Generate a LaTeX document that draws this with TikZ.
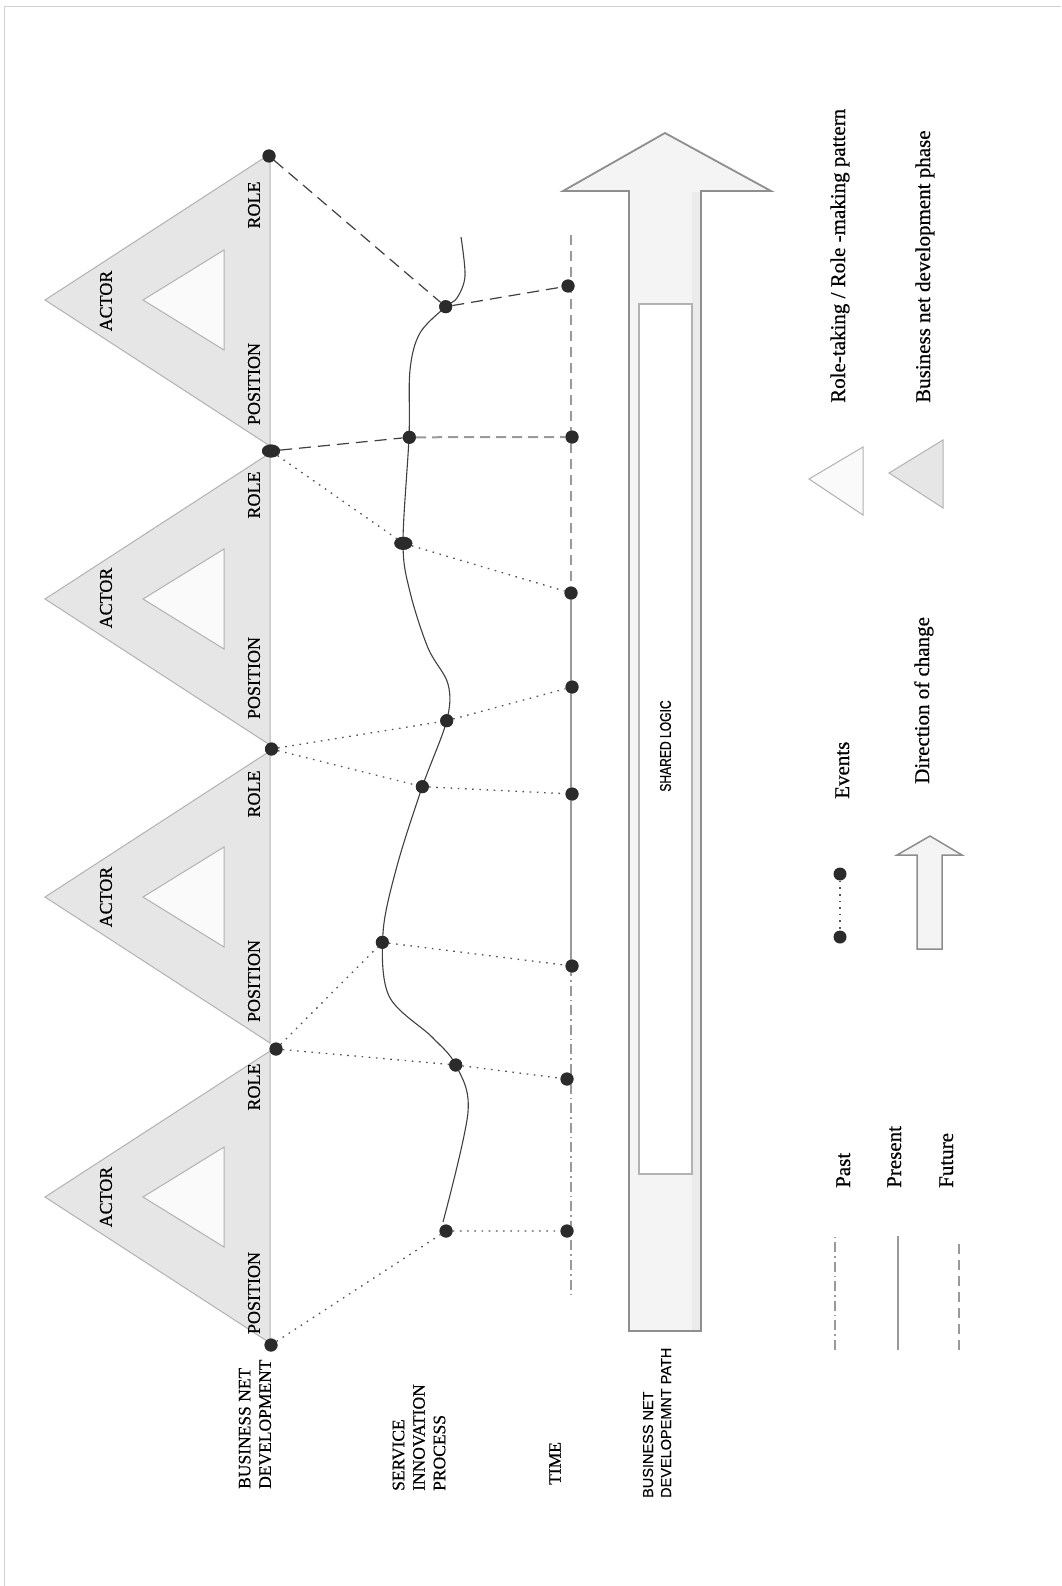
\documentclass[tikz,border=0pt]{standalone}
\usepackage{fontspec}
\setmainfont{Liberation Serif}[FakeBold=0.5]
\newfontfamily\sansfont{Liberation Sans}[FakeBold=0.4]
\newfontfamily\narrowfont{Liberation Sans}[FakeStretch=0.78, FakeBold=0.6]
\usetikzlibrary{shapes.geometric}

\definecolor{phasefill}{HTML}{E6E6E6}
\definecolor{patternfill}{HTML}{FAFAFA}
\definecolor{edgegray}{HTML}{B2B2B2}
\definecolor{dotcol}{HTML}{2B2B2B}
\definecolor{linkcol}{HTML}{555555}
\definecolor{axiscol}{HTML}{999999}
\definecolor{arrowedge}{HTML}{8E8E8E}
\definecolor{arrowfill}{HTML}{F4F4F4}
\definecolor{arrowshade}{HTML}{EBEBEB}

\tikzset{
  phasetri/.style={fill=phasefill, draw=edgegray, line width=1pt},
  patterntri/.style={fill=patternfill, draw=edgegray, line width=1pt},
  evdot/.style={circle, fill=dotcol, inner sep=0pt, minimum size=13pt},
  evoval/.style={ellipse, fill=dotcol, inner sep=0pt, minimum width=18pt, minimum height=13pt},
  evlink/.style={linkcol, line width=1.3pt, dash pattern=on 1.6pt off 5.6pt},
  futlink/.style={draw=dotcol!90, line width=1.2pt, dash pattern=on 12pt off 7pt},
  futaxis/.style={axiscol, line width=2.4pt, dash pattern=on 10pt off 6pt},
  presaxis/.style={axiscol, line width=2.4pt},
  pastaxis/.style={axiscol, line width=2pt, dash pattern=on 10pt off 4pt on 1.6pt off 4pt},
  sipath/.style={draw=dotcol!90, line width=1.1pt},
  trilabel/.style={rotate=90, inner sep=0pt, font=\fontsize{18}{20}\selectfont},
  sidelabel/.style={rotate=90, inner sep=0pt, anchor=west, align=left, font=\fontsize{17.5}{20.5}\selectfont},
  legendtext/.style={rotate=90, inner sep=0pt, anchor=base west, font=\fontsize{21}{24}\selectfont},
  bigarrow/.style={draw=arrowedge, line width=1.8pt, line join=miter, fill=arrowfill},
}

\begin{document}
\begin{tikzpicture}[x=1pt, y=-1pt]
\useasboundingbox (0,0) rectangle (1061,1586);
\fill[white] (0,0) rectangle (1061,1586);
\draw[black!18, line width=1pt] (4,1586) -- (4,7) -- (1061,7);

% ---- business net development phases (outer) and role patterns (inner)
\foreach \c in {300,599,897,1197}{
  \draw[phasetri] (45,\c) -- (270,\c-146) -- (270,\c+146) -- cycle;
  \draw[patterntri] (143,\c) -- (224,\c-50) -- (224,\c+50) -- cycle;
}

% ---- labels inside the phases
\node[trilabel] (actorA) at (106,1197) {ACTOR};
\node[trilabel] (actorB) at (106,897) {ACTOR};
\node[trilabel] (actorC) at (106,598) {ACTOR};
\node[trilabel] (actorD) at (106,301) {ACTOR};
\node[trilabel] (roleA) at (254,1087) {ROLE};
\node[trilabel] (roleB) at (254,794) {ROLE};
\node[trilabel] (roleC) at (254,495) {ROLE};
\node[trilabel] (roleD) at (254,205) {ROLE};
\node[trilabel] (posA) at (254,1293) {POSITION};
\node[trilabel] (posB) at (254,981) {POSITION};
\node[trilabel] (posC) at (254,678) {POSITION};
\node[trilabel] (posD) at (254,384) {POSITION};

% ---- row titles
\node[sidelabel] (rowbnd) at (255,1489) {BUSINESS NET\\DEVELOPMENT};
\node[sidelabel] (rowsip) at (419,1491) {SERVICE\\INNOVATION\\PROCESS};
\node[sidelabel] (rowtime) at (555,1485) {TIME};
\node[sidelabel, font=\sansfont\fontsize{14.5}{18}\selectfont] (rowpath) at (657,1498)
  {BUSINESS NET\\DEVELOPEMNT PATH};

% ---- direction of change with the shared logic
\draw[bigarrow] (629,1331) -- (629,191) -- (563,191) -- (665,133) -- (771,191)
  -- (701,191) -- (701,1331) -- cycle;
\fill[arrowshade] (692,192) rectangle (700,1330);
\draw[fill=white, draw=edgegray, line width=1.5pt] (639,304) rectangle (692,1174);
\node[rotate=90, inner sep=0pt, font=\narrowfont\fontsize{15.5}{17}\selectfont] (shared)
  at (665.5,746) {SHARED LOGIC};

% ---- service innovation process
\draw[sipath] plot[smooth, tension=0.55] coordinates {
  (461,237) (465,276) (457,298) (445.7,306.7) (420,333) (410,370) (409,437)
  (403,543) (410,592) (428,648) (448,684) (446.7,720.7) (422.3,786.7)
  (397,866) (383,933) (389,996) (432,1037) (455.7,1065) (468,1112) (443,1222)};

% ---- events
\node[evdot] (b0) at (271,1345) {};
\node[evdot] (b1) at (276,1049) {};
\node[evdot] (b2) at (271.5,749) {};
\node[evoval] (b3) at (271,451) {};
\node[evdot] (b4) at (269,156) {};

\node[evdot] (s1) at (446,1231) {};
\node[evdot] (s2) at (455.7,1065) {};
\node[evdot] (s3) at (382.3,942.3) {};
\node[evdot] (s4) at (422.3,786.7) {};
\node[evdot] (s5) at (446.7,720.7) {};
\node[evoval] (s6) at (403.3,543.3) {};
\node[evdot] (s7) at (409.3,437.3) {};
\node[evdot] (s8) at (445.7,306.7) {};

\node[evdot] (t1) at (567,1231) {};
\node[evdot] (t2) at (567,1079) {};
\node[evdot] (t3) at (572,966) {};
\node[evdot] (t4) at (572,794) {};
\node[evdot] (t5) at (572,687) {};
\node[evdot] (t6) at (571,593) {};
\node[evdot] (t7) at (572,437) {};
\node[evdot] (t8) at (568,286) {};

\coordinate (tTop) at (571,235);
\coordinate (tMid) at (571,966);
\coordinate (tEnd) at (571,1295);

% time axis: future, present, past
\draw[futaxis] (tTop) -- (t6.center);
\draw[presaxis] (t6.center) -- (tMid);
\draw[pastaxis] (tMid) -- (tEnd);

% links between the levels
\draw[evlink] (b0) -- (s1) -- (t1);
\draw[evlink] (b1) -- (s2) -- (t2);
\draw[evlink] (b1) -- (s3) -- (t3);
\draw[evlink] (b2) -- (s4) -- (t4);
\draw[evlink] (b2) -- (s5) -- (t5);
\draw[evlink] (b3) -- (s6) -- (t6);
\draw[futlink] (b3) -- (s7);
\draw[futaxis, line width=2pt] (s7) -- (t7);
\draw[futlink] (b4) -- (s8) -- (t8);

% redraw dots on top of the links
\foreach \n in {b0,b1,b2,b4,s1,s2,s3,s4,s5,s7,s8,t1,t2,t3,t4,t5,t6,t7,t8}{
  \fill[dotcol] (\n.center) circle (6.5pt);
}
\fill[dotcol] (b3.center) ellipse (9pt and 6.5pt);
\fill[dotcol] (s6.center) ellipse (9pt and 6.5pt);

% ---- legend
\draw[patterntri] (809,479) -- (863,447) -- (863,515) -- cycle;
\draw[phasetri] (889,473) -- (943,440) -- (943,508) -- cycle;
\node[legendtext] (lgrole) at (845,403) {Role-taking / Role -making pattern};
\node[legendtext] (lgphase) at (930,403) {Business net development phase};

\node[evdot] (ev1) at (840,874) {};
\node[evdot] (ev2) at (840,937) {};
\draw[linkcol, line width=1.3pt, dash pattern=on 1.6pt off 5pt] (ev1) -- (ev2);
\node[legendtext] (lgevents) at (849,799) {Events};

\draw[bigarrow, line width=1.5pt] (917,949) -- (917,855) -- (897,855) -- (930,836)
  -- (962,855) -- (942,855) -- (942,949) -- cycle;
\node[legendtext] (lgdir) at (929,784) {Direction of change};

\coordinate (pastA) at (835,1350);
\coordinate (pastB) at (835,1237);
\coordinate (presA) at (898,1350);
\coordinate (presB) at (898,1236);
\coordinate (futA) at (959,1350);
\coordinate (futB) at (959,1244);
\draw[pastaxis, line width=1.6pt] (pastA) -- (pastB);
\draw[presaxis, line width=1.6pt] (presA) -- (presB);
\draw[futaxis, line width=1.8pt] (futA) -- (futB);
\node[legendtext] (lgpast) at (850,1188) {Past};
\node[legendtext] (lgpres) at (901,1188) {Present};
\node[legendtext] (lgfut) at (953,1188) {Future};
\end{tikzpicture}
\end{document}
